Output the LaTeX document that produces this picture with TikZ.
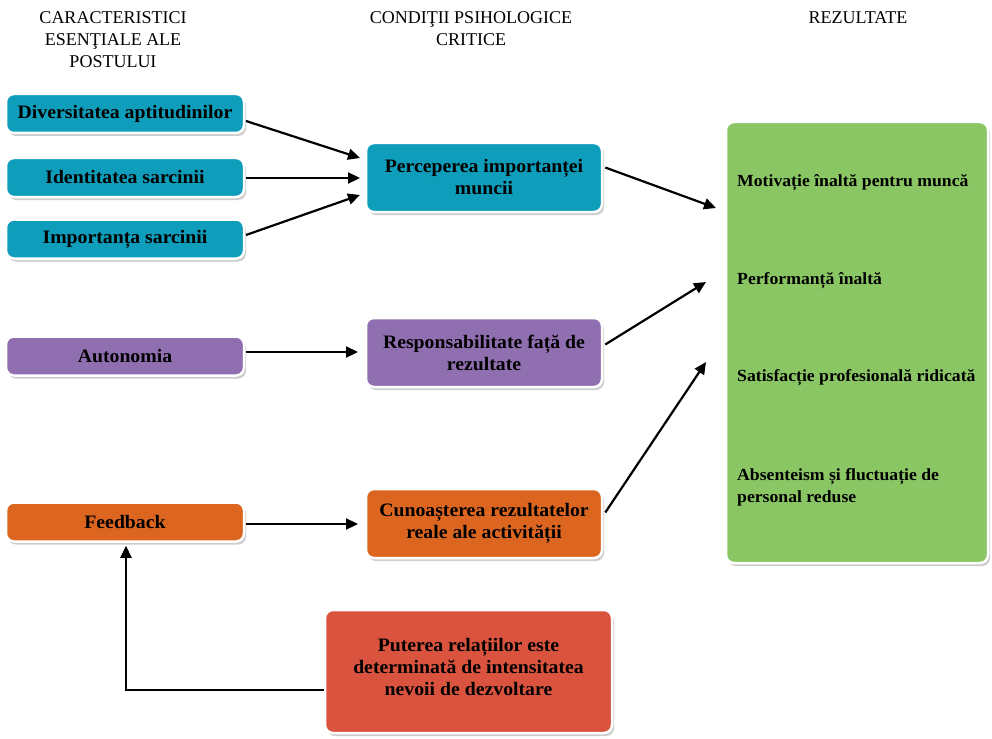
\documentclass[tikz,border=0pt]{standalone}
\usepackage{fontspec}
\setmainfont{Liberation Serif}
\newfontfamily\boxfont[FakeStretch=1.04]{Liberation Serif}
\usetikzlibrary{arrows.meta,shadows}

\definecolor{cTeal}{RGB}{14,157,186}
\definecolor{cPurple}{RGB}{143,111,176}
\definecolor{cOrange}{RGB}{220,102,32}
\definecolor{cGreen}{RGB}{139,198,101}
\definecolor{cRed}{RGB}{217,83,62}

\begin{document}
\begin{tikzpicture}[x=1pt,y=-1pt,
  box/.style={rounded corners=8pt, draw=white, line width=2.5pt, align=center,
    inner sep=0pt, text=black,
    font=\boxfont\bfseries\fontsize{19}{22}\selectfont,
    drop shadow={shadow xshift=2pt,shadow yshift=-3pt,fill=black!40,opacity=0.5}},
  small/.style={box, minimum width=238pt, minimum height=39pt},
  mid/.style={box, minimum width=236pt, minimum height=69pt},
  head/.style={align=center, inner sep=0pt, font=\fontsize{18}{22}\selectfont},
  res/.style={anchor=west, align=left, inner sep=0pt,
    font=\boxfont\bfseries\fontsize{17}{22}\selectfont},
  conn/.style={-{Triangle[length=12pt,width=11pt]}, line width=2.2pt}
]
\useasboundingbox (0,0) rectangle (992,738);

% column headings
\node[head] (h1) at (113,40) {CARACTERISTICI\\ESENŢIALE ALE\\POSTULUI};
\node[head] (h2) at (471,29) {CONDIŢII PSIHOLOGICE\\CRITICE};
\node[head] (h3) at (858,18) {REZULTATE};

% job characteristics
\node[small, fill=cTeal] (div) at (125,113.5) {Diversitatea aptitudinilor};
\node[small, fill=cTeal] (ide) at (125,177.5) {Identitatea sarcinii};
\node[small, fill=cTeal] (imp) at (125,239) {Importanța sarcinii};
\node[small, fill=cPurple] (aut) at (125,356) {Autonomia};
\node[small, fill=cOrange] (fee) at (125,522) {Feedback};

% psychological states
\node[mid, fill=cTeal] (per) at (484,177.5) {Perceperea importanței\\muncii};
\node[mid, fill=cPurple] (rsp) at (484,352.5) {Responsabilitate față de\\rezultate};
\node[mid, fill=cOrange] (cun) at (484,523.5) {Cunoașterea rezultatelor\\reale ale activității};

% outcomes
\node[box, fill=cGreen, minimum width=262pt, minimum height=441pt] (rez) at (857,342.5) {};
\node[res] (r1) at (737,183) {Motivație înaltă pentru muncă};
\node[res] (r2) at (737,281) {Performanță înaltă};
\node[res] (r3) at (737,378) {Satisfacție profesională ridicată};
\node[res] (r4) at (737,487) {Absenteism și fluctuație de\\personal reduse};

% moderator (text sits slightly above the box centre)
\node[box, fill=cRed, minimum width=287pt, minimum height=123pt] (mod) at (468.5,671.5)
  {Puterea relațiilor este\\determinată de intensitatea\\nevoii de dezvoltare\\[-12pt]};

% connector end points
\coordinate (a1) at (246,121);   \coordinate (b1) at (360,158);
\coordinate (a2) at (246,178);   \coordinate (b2) at (360,178);
\coordinate (a3) at (246,235);   \coordinate (b3) at (360,195);
\coordinate (a4) at (246,352);   \coordinate (b4) at (358,352);
\coordinate (a5) at (246,524);   \coordinate (b5) at (358,524);
\coordinate (e1) at (716,208);
\coordinate (e2) at (706,282);
\coordinate (e3) at (706,362);
\coordinate (k) at (126,690);

\draw[conn] (a1) -- (b1);
\draw[conn] (a2) -- (b2);
\draw[conn] (a3) -- (b3);
\draw[conn] (a4) -- (b4);
\draw[conn] (a5) -- (b5);
\draw[conn] ([shift={(2,-10)}]per.east) -- (e1);
\draw[conn] ([shift={(2,-8)}]rsp.east) -- (e2);
\draw[conn] ([shift={(2,-11)}]cun.east) -- (e3);
\draw[conn] (mod.west |- k) -- (k) -- ([yshift=-3]fee.south -| k);
\end{tikzpicture}
\end{document}
